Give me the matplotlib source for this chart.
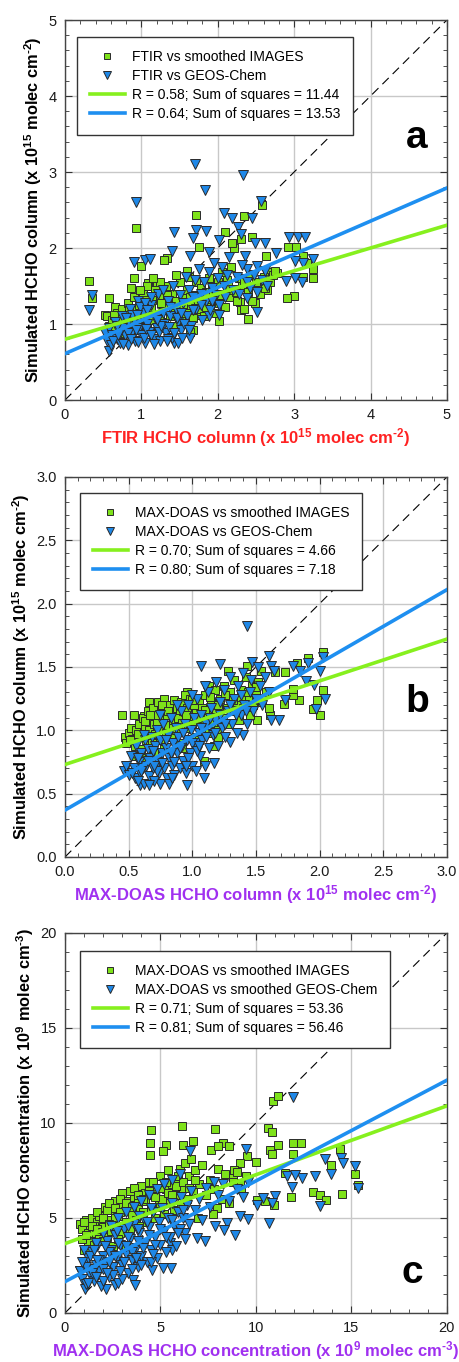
import matplotlib
matplotlib.use("Agg")
import matplotlib.pyplot as plt
from matplotlib.ticker import MultipleLocator, FormatStrFormatter

plt.rcParams['font.family'] = ['Liberation Sans', 'DejaVu Sans']
plt.rcParams['mathtext.fontset'] = 'custom'
plt.rcParams['mathtext.rm'] = 'Liberation Sans:bold'
plt.rcParams['mathtext.bf'] = 'Liberation Sans:bold'
plt.rcParams['mathtext.default'] = 'regular'

GREEN_FACE = '#7ee21a'
BLUE_FACE = '#1e88e8'
GREEN_LINE = '#86f01e'
BLUE_LINE = '#1e8ff0'

# ---- panel a : FTIR ----
a_img_x = [0.31, 0.35, 0.93, 1.71, 2.34, 2.58, 2.45, 2.09, 2.21, 2.19, 1.76, 2.31, 2.92, 3.03,
           2.63, 3.17, 3.12, 3.25, 3.25, 3.00, 2.91, 2.39, 2.02, 1.33, 1.29, 0.90, 1.00, 0.86,
           0.52, 0.57, 0.66, 1.68, 1.64, 1.42, 2.64, 2.29, 2.30, 2.49, 1.90, 1.75, 1.09, 1.20,
           2.64, 2.64, 2.77, 3.12,
           0.55, 0.58, 0.62, 0.65, 0.68, 0.70, 0.72, 0.75, 0.78, 0.80, 0.82, 0.85, 0.87, 0.90,
           0.92, 0.95, 0.97, 1.00, 1.02, 1.05, 1.07, 1.10, 1.12, 1.15, 1.18, 1.20, 1.22, 1.25,
           1.28, 1.30, 1.32, 1.35, 1.38, 1.40, 1.42, 1.45, 1.48, 1.50, 1.52, 1.55, 1.58, 1.60,
           1.62, 1.65, 1.68, 1.70, 1.72, 1.75, 1.78, 1.80, 1.82, 1.85, 1.88, 1.90, 1.92, 1.95,
           1.98, 2.00, 2.02, 2.05, 2.08, 2.10, 2.12, 2.15, 2.18, 2.20, 2.25, 2.28, 2.32, 2.35,
           2.40, 2.42, 2.45, 2.50, 2.55, 2.60, 2.62, 2.68, 2.72, 2.75, 1.60, 1.45, 1.25, 1.08,
           0.98, 1.15,
           0.64, 0.74, 0.84, 0.94, 1.04, 1.14, 1.24, 1.34, 1.44, 1.54, 1.64, 1.74, 1.84, 1.94,
           2.04, 2.14, 2.24, 2.34, 1.06, 1.26]
a_img_y = [1.56, 1.34, 2.27, 2.43, 2.42, 2.56, 2.14, 2.21, 2.00, 2.07, 2.02, 2.12, 2.02, 2.01,
           1.89, 1.80, 1.89, 1.72, 1.60, 1.37, 1.34, 1.06, 1.04, 1.87, 1.84, 1.61, 1.76, 1.47,
           1.12, 1.34, 1.23, 0.92, 0.90, 0.96, 1.45, 1.29, 1.18, 1.27, 1.29, 1.12, 1.54, 1.51,
           1.60, 1.69, 1.67, 1.62,
           1.10, 0.98, 1.05, 0.92, 1.15, 1.02, 0.88, 1.20, 1.08, 0.95, 1.28, 1.12, 1.00, 1.35,
           1.18, 0.92, 1.25, 1.08, 1.40, 1.15, 0.98, 1.30, 1.22, 1.05, 1.45, 1.12, 0.95, 1.35,
           1.18, 1.02, 1.50, 1.25, 1.10, 1.40, 0.98, 1.30, 1.20, 1.55, 1.05, 1.35, 1.15, 1.45,
           1.62, 1.25, 1.08, 1.38, 1.55, 1.20, 1.48, 1.32, 1.10, 1.42, 1.60, 1.25, 1.50, 1.35,
           1.15, 1.55, 1.28, 1.68, 1.40, 1.22, 1.58, 1.35, 1.75, 1.45, 1.30, 1.60, 1.50, 1.20,
           1.42, 1.65, 1.30, 1.55, 1.40, 1.62, 1.48, 1.55, 1.65, 1.70, 1.70, 1.65, 1.55, 1.50,
           1.45, 1.60,
           1.12, 1.04, 1.18, 1.02, 1.22, 1.32, 1.08, 1.38, 1.14, 1.26, 1.35, 1.30, 1.22, 1.45,
           1.38, 1.52, 1.42, 1.55, 1.32, 1.28]
a_geos_x = [1.70, 2.33, 1.83, 0.93, 2.57, 2.45, 2.08, 2.19, 2.26, 1.72, 1.85, 2.30, 1.43, 1.67,
            2.01, 2.93, 3.05, 3.14, 2.62, 2.49, 2.76, 1.40, 1.88, 2.36, 1.64, 0.90, 1.05, 1.11,
            3.25, 3.12, 3.01, 2.51, 2.38, 3.10, 2.90, 3.01, 0.31, 0.35, 0.57, 1.64, 1.43, 2.51,
            2.38, 2.01, 1.88,
            0.52, 0.55, 0.58, 0.60, 0.62, 0.65, 0.68, 0.70, 0.72, 0.75, 0.78, 0.80, 0.82, 0.85,
            0.88, 0.90, 0.92, 0.95, 0.97, 1.00, 1.02, 1.05, 1.08, 1.10, 1.12, 1.15, 1.18, 1.20,
            1.22, 1.25, 1.28, 1.30, 1.32, 1.35, 1.38, 1.40, 1.42, 1.45, 1.48, 1.50, 1.52, 1.55,
            1.58, 1.60, 1.62, 1.65, 1.68, 1.70, 1.72, 1.75, 1.78, 1.80, 1.82, 1.85, 1.88, 1.90,
            1.92, 1.95, 1.98, 2.00, 2.02, 2.05, 2.08, 2.10, 2.12, 2.15, 2.20, 2.25, 2.28, 2.32,
            2.38, 2.42, 2.48, 2.52, 2.58, 2.62, 2.65, 0.98, 1.12, 1.28, 0.88, 0.75, 1.48, 1.35,
            1.05,
            0.63, 0.70, 0.76, 0.83, 0.86, 0.93, 0.96, 1.03, 1.06, 1.13, 1.16, 1.23, 1.26, 1.33,
            1.36, 1.43, 1.46, 1.53, 1.56, 1.63, 0.68, 0.80, 0.94, 1.07, 1.21, 1.38, 1.52, 1.67,
            1.78, 1.93]
a_geos_y = [3.11, 2.96, 2.77, 2.60, 2.62, 2.40, 2.46, 2.39, 2.28, 2.24, 2.22, 2.18, 2.21, 2.13,
            2.10, 2.14, 2.14, 2.14, 2.07, 2.06, 1.94, 1.96, 1.95, 1.89, 1.89, 1.81, 1.84, 1.86,
            1.86, 1.80, 1.83, 1.77, 1.72, 1.55, 1.56, 1.60, 1.19, 1.38, 0.64, 0.81, 0.75, 1.16,
            1.34, 1.12, 1.10,
            0.88, 0.78, 0.95, 0.72, 0.85, 1.02, 0.80, 0.92, 0.75, 1.10, 0.85, 0.98, 0.72, 1.20,
            0.90, 1.05, 0.78, 1.30, 0.95, 0.85, 1.15, 0.75, 1.00, 0.90, 1.25, 0.80, 1.08, 0.95,
            1.40, 0.78, 1.15, 1.00, 0.88, 1.30, 1.10, 0.82, 1.50, 1.20, 1.02, 1.38, 0.92, 1.28,
            1.62, 1.10, 1.45, 0.98, 1.35, 1.58, 1.20, 1.72, 1.40, 1.05, 1.55, 1.30, 1.68, 1.18,
            1.48, 1.80, 1.38, 1.60, 1.25, 1.75, 1.50, 1.35, 1.65, 1.88, 1.45, 1.62, 1.40, 1.78,
            1.55, 1.48, 1.65, 1.42, 1.58, 1.70, 1.50, 1.22, 1.35, 1.45, 1.12, 0.95, 0.75, 0.80,
            1.28,
            0.78, 0.86, 0.74, 0.88, 0.80, 0.92, 0.76, 0.82, 0.94, 0.86, 0.74, 0.90, 0.98, 0.78,
            0.96, 0.88, 1.08, 0.82, 1.00, 0.92, 0.97, 1.08, 1.12, 1.18, 1.05, 1.22, 1.15, 1.18,
            1.25, 1.30]
a_fit_x = [0, 5]
a_fit_img = [0.80, 2.30]
a_fit_geos = [0.61, 2.79]

# ---- panel b : MAX-DOAS columns ----
b_img_x = [0.45, 0.54, 0.62, 2.03, 2.03, 2.00, 1.95, 1.98, 1.84, 1.79, 1.79, 1.91, 1.82, 1.54,
           1.43, 1.28, 1.73, 1.65, 1.72, 1.61, 1.51, 1.13, 0.96, 0.66, 1.17, 1.09,
           0.47, 0.48, 0.50, 0.52, 0.53, 0.55, 0.56, 0.58, 0.58, 0.60, 0.61, 0.62, 0.63, 0.64,
           0.65, 0.66, 0.67, 0.68, 0.69, 0.70, 0.71, 0.72, 0.73, 0.74, 0.75, 0.76, 0.77, 0.78,
           0.79, 0.80, 0.81, 0.82, 0.83, 0.84, 0.85, 0.86, 0.87, 0.88, 0.89, 0.90, 0.91, 0.92,
           0.93, 0.94, 0.95, 0.96, 0.97, 0.98, 1.00, 1.01, 1.02, 1.03, 1.05, 1.06, 1.08, 1.09,
           1.10, 1.12, 1.13, 1.15, 1.16, 1.18, 1.19, 1.20, 1.22, 1.24, 1.25, 1.27, 1.28, 1.30,
           1.32, 1.33, 1.35, 1.37, 1.38, 1.40, 1.42, 1.44, 1.45, 1.47, 1.48, 1.50, 1.52, 1.55,
           1.58, 1.60, 0.70, 0.78, 0.55, 0.60, 0.92, 1.05, 1.20,
           0.51, 0.57, 0.63, 0.67, 0.72, 0.76, 0.81, 0.85, 0.90, 0.95, 1.00, 1.04, 1.10, 1.14,
           1.20, 1.26, 1.32, 1.38, 1.44, 1.50]
b_img_y = [1.12, 1.12, 1.11, 1.62, 1.32, 1.12, 1.17, 1.24, 1.24, 1.28, 1.33, 1.57, 1.53, 1.47,
           1.51, 1.47, 1.46, 1.46, 1.21, 1.12, 1.08, 1.35, 1.30, 1.22, 0.88, 0.76,
           0.95, 0.90, 0.98, 1.02, 0.93, 0.88, 1.00, 0.95, 1.05, 0.85, 1.10, 0.98, 1.03, 0.92,
           1.15, 1.00, 1.08, 0.90, 1.18, 1.05, 0.97, 1.12, 1.22, 1.02, 0.92, 1.16, 1.08, 1.25,
           0.98, 1.12, 1.04, 1.20, 0.95, 1.15, 1.08, 1.24, 1.00, 1.18, 1.10, 0.90, 1.22, 1.06,
           1.15, 1.28, 1.02, 1.18, 1.10, 1.25, 1.05, 1.20, 0.95, 1.14, 1.24, 1.08, 1.18, 1.02,
           1.28, 1.12, 0.98, 1.22, 1.06, 1.32, 1.15, 1.00, 1.25, 1.10, 1.35, 1.18, 1.05, 1.30,
           1.15, 1.40, 1.22, 1.08, 1.32, 1.18, 1.42, 1.25, 1.12, 1.35, 1.20, 1.28, 1.38, 1.22,
           1.30, 1.18, 0.82, 0.85, 0.80, 0.78, 0.86, 0.92, 0.95,
           0.92, 0.97, 1.07, 1.12, 1.06, 1.20, 1.15, 1.02, 1.16, 1.12, 1.24, 1.10, 1.16, 1.26,
           1.20, 1.28, 1.24, 1.26, 1.30, 1.34]
b_geos_x = [1.43, 1.07, 1.22, 1.47, 1.60, 1.62, 1.64, 1.79, 1.85, 1.91, 2.00, 2.03, 2.04, 1.97,
            1.89, 1.96, 1.73, 1.68, 1.62, 1.17, 0.96, 1.09, 0.59, 0.46, 0.75, 1.30, 1.40,
            0.48, 0.50, 0.52, 0.54, 0.55, 0.56, 0.58, 0.59, 0.60, 0.62, 0.63, 0.64, 0.65, 0.66,
            0.67, 0.68, 0.69, 0.70, 0.71, 0.72, 0.73, 0.74, 0.75, 0.76, 0.77, 0.78, 0.79, 0.80,
            0.81, 0.82, 0.83, 0.84, 0.85, 0.86, 0.87, 0.88, 0.89, 0.90, 0.91, 0.92, 0.93, 0.94,
            0.95, 0.96, 0.97, 0.98, 0.99, 1.00, 1.01, 1.02, 1.03, 1.04, 1.05, 1.06, 1.07, 1.08,
            1.10, 1.11, 1.12, 1.13, 1.15, 1.16, 1.18, 1.19, 1.20, 1.22, 1.23, 1.25, 1.26, 1.28,
            1.30, 1.31, 1.33, 1.35, 1.36, 1.38, 1.40, 1.41, 1.43, 1.45, 1.46, 1.48, 1.50, 1.52,
            1.53, 1.55, 1.57, 1.60, 0.62, 0.75, 0.88, 1.00, 1.10, 0.57, 0.66, 0.82,
            0.53, 0.57, 0.61, 0.65, 0.69, 0.72, 0.76, 0.79, 0.83, 0.86, 0.90, 0.93, 0.97, 1.00,
            1.04, 1.07, 1.11, 1.14, 1.18, 1.22, 1.26, 1.30, 1.34, 1.38, 1.42, 0.70, 0.84, 0.95,
            1.05, 0.60]
b_geos_y = [1.82, 1.51, 1.52, 1.54, 1.59, 1.51, 1.47, 1.51, 1.47, 1.53, 1.47, 1.58, 1.25, 1.17,
            1.39, 1.36, 1.24, 1.08, 1.08, 0.74, 0.57, 0.62, 0.57, 0.68, 0.58, 0.91, 0.96,
            0.72, 0.65, 0.80, 0.70, 0.62, 0.88, 0.75, 0.66, 0.82, 0.58, 0.92, 0.72, 0.85, 0.64,
            0.78, 0.95, 0.70, 0.60, 0.88, 1.00, 0.75, 0.66, 0.92, 0.82, 1.05, 0.70, 0.86, 0.62,
            0.96, 0.78, 1.10, 0.72, 0.90, 0.65, 1.02, 0.82, 0.95, 0.70, 1.15, 0.88, 0.76, 1.05,
            0.66, 0.92, 1.20, 0.82, 1.00, 0.72, 1.10, 0.90, 0.68, 1.25, 0.98, 0.80, 1.12, 0.92,
            0.72, 1.05, 1.30, 0.86, 1.18, 0.96, 1.08, 1.38, 0.88, 1.22, 1.02, 1.32, 0.95, 1.15,
            1.42, 1.05, 1.25, 0.98, 1.35, 1.12, 1.45, 1.20, 1.05, 1.30, 1.40, 1.15, 1.25, 1.50,
            1.35, 1.20, 1.42, 1.30, 0.96, 1.12, 1.20, 1.28, 1.35, 0.60, 0.57, 0.58,
            0.66, 0.78, 0.70, 0.76, 0.84, 0.68, 0.74, 0.92, 0.82, 0.75, 0.86, 0.98, 0.78, 0.90,
            0.84, 1.02, 0.95, 1.10, 0.98, 1.12, 1.05, 1.20, 1.12, 1.28, 1.15, 0.72, 0.62, 0.72,
            0.88, 0.68]
b_fit_x = [0, 3]
b_fit_img = [0.73, 1.72]
b_fit_geos = [0.37, 2.11]

# ---- panel c : MAX-DOAS concentrations ----
c_img_x = [10.88, 11.14, 4.51, 6.11, 7.86, 10.62, 10.83, 4.44, 4.45, 5.29, 5.15, 6.17, 6.69,
           8.30, 8.61, 11.93, 12.37, 10.74, 10.83, 11.18, 11.93, 14.41, 13.94, 15.20, 15.32,
           14.50, 13.01, 13.33, 13.68, 11.83, 10.04, 10.45, 10.92, 9.52, 10.01, 11.53, 7.63,
           8.03, 9.17, 8.87, 8.82, 9.17, 7.95, 7.77, 6.99,
           0.8, 0.9, 1.0, 1.1, 1.2, 1.3, 1.4, 1.5, 1.6, 1.7, 1.8, 1.9, 2.0, 2.1, 2.2, 2.3, 2.4,
           2.5, 2.6, 2.7, 2.8, 2.9, 3.0, 3.1, 3.2, 3.3, 3.4, 3.5, 3.6, 3.7, 3.8, 3.9, 4.0, 4.1,
           4.2, 4.3, 4.4, 4.5, 4.6, 4.7, 4.8, 4.9, 5.0, 5.1, 5.2, 5.3, 5.4, 5.5, 5.6, 5.7, 5.8,
           5.9, 6.0, 6.1, 6.2, 6.3, 6.4, 6.5, 6.6, 6.7, 6.8, 7.0, 7.2, 7.4, 7.6, 7.8, 8.0, 8.2,
           8.4, 8.6, 8.8, 9.0, 9.2, 9.5, 0.9, 1.2, 1.5, 1.8, 2.2, 2.6, 3.0, 3.4, 3.8, 4.2, 4.6,
           5.0, 5.4, 5.8, 1.0, 1.3, 2.0, 2.4, 2.8, 3.2, 1.7, 2.3, 2.9, 3.6,
           1.1, 1.4, 1.7, 2.0, 2.3, 2.6, 2.9, 3.2, 3.5, 3.8, 4.1, 4.4, 4.7, 5.0, 5.3, 5.6, 5.9,
           6.2, 6.5, 6.8]
c_img_y = [11.14, 11.40, 9.65, 9.82, 9.70, 9.74, 9.53, 8.95, 8.33, 8.86, 8.51, 8.86, 9.04,
           8.95, 8.81, 8.95, 8.95, 8.60, 8.39, 8.86, 8.37, 8.63, 7.81, 7.33, 6.75,
           6.28, 6.35, 6.23, 5.96, 6.11, 5.93, 5.88, 5.70, 8.28, 7.93, 7.37, 8.60,
           8.77, 7.89, 7.54, 7.11, 6.84, 5.53, 5.23, 5.00,
           4.7, 4.4, 3.3, 4.9, 3.8, 4.5, 5.0, 3.6, 4.2, 4.8, 3.9, 5.2, 4.5, 5.6, 4.0, 4.9, 5.4,
           3.5, 5.9, 4.6, 5.1, 4.2, 6.3, 5.5, 4.8, 5.9, 4.4, 5.2, 6.1, 4.9, 5.6, 4.6, 6.7, 5.3,
           5.9, 4.8, 6.9, 5.5, 6.2, 5.0, 6.6, 5.7, 7.2, 6.0, 5.2, 6.5, 7.5, 5.8, 6.8, 5.4, 7.0,
           6.2, 7.6, 5.7, 6.6, 7.9, 6.0, 7.2, 8.1, 6.4, 7.5, 6.8, 7.8, 6.2, 7.0, 6.5, 7.6, 6.0,
           7.3, 5.8, 6.9, 7.4, 6.5, 7.2, 3.9, 4.2, 4.6, 5.1, 5.4, 5.0, 5.7, 6.4, 5.9, 6.3, 6.9,
           5.6, 6.3, 6.7, 4.8, 3.2, 3.8, 4.3, 3.9, 3.6, 5.3, 5.8, 6.0, 6.6,
           4.1, 4.6, 4.4, 5.0, 4.7, 5.5, 5.3, 5.8, 5.6, 6.2, 6.0, 6.4, 6.1, 6.6, 6.9, 6.2, 7.2,
           6.9, 6.6, 7.0]
c_geos_x = [11.96, 9.48, 6.55, 14.45, 14.54, 13.62, 13.94, 15.20, 15.34, 13.10, 12.40, 11.89,
            13.33, 11.62, 12.05, 11.00, 10.83, 10.39, 10.66, 10.04, 9.17, 9.61, 8.91, 8.47,
            7.86, 8.33, 7.34, 6.90, 6.29, 5.50, 5.59, 5.55, 5.15, 4.54, 3.93, 3.58, 3.67,
            2.15, 2.62, 1.05, 1.14, 0.79,
            0.8, 0.9, 1.0, 1.1, 1.2, 1.3, 1.4, 1.5, 1.6, 1.7, 1.8, 1.9, 2.0, 2.1, 2.2, 2.3, 2.4,
            2.5, 2.6, 2.7, 2.8, 2.9, 3.0, 3.1, 3.2, 3.3, 3.4, 3.5, 3.6, 3.7, 3.8, 3.9, 4.0, 4.1,
            4.2, 4.3, 4.4, 4.5, 4.6, 4.7, 4.8, 4.9, 5.0, 5.1, 5.2, 5.3, 5.4, 5.5, 5.6, 5.7, 5.8,
            5.9, 6.0, 6.1, 6.2, 6.3, 6.4, 6.5, 6.6, 6.8, 7.0, 7.2, 7.4, 7.6, 7.8, 8.0, 8.3, 8.6,
            9.0, 9.3, 9.6, 1.0, 1.3, 1.6, 2.0, 2.4, 2.8, 3.2, 3.6, 4.0, 4.4, 4.8, 5.2, 5.6, 6.0,
            1.2, 1.5, 2.0, 2.5, 3.0, 3.5, 4.0, 4.5, 1.8, 2.3, 2.8, 3.3, 3.8, 4.3,
            1.1, 1.4, 1.7, 2.0, 2.3, 2.6, 2.9, 3.2, 3.5, 3.8, 4.1, 4.4, 4.7, 5.0, 5.3, 5.6, 5.9,
            6.2, 1.5, 2.1, 2.7, 3.3, 3.9, 4.5, 0.9, 1.6, 2.2, 3.1, 3.7, 4.6]
c_geos_y = [11.37, 8.65, 8.51, 8.15, 7.89, 8.11, 7.32, 7.72, 6.58, 7.19, 7.11, 6.63,
            5.65, 7.19, 7.28, 6.14, 5.79, 6.05, 4.74, 5.70, 5.12, 4.95, 4.12, 4.74,
            4.56, 4.39, 3.77, 3.95, 4.21, 3.68, 3.33, 2.37, 2.37, 2.28, 2.89, 1.75, 1.49,
            1.26, 1.49, 1.26, 1.58, 2.19,
            2.2, 1.8, 2.6, 1.5, 2.9, 2.0, 3.2, 1.7, 2.5, 3.5, 2.2, 1.4, 3.0, 2.6, 3.8, 1.9, 3.3,
            2.4, 4.1, 2.9, 1.6, 3.6, 2.5, 4.4, 3.1, 2.1, 3.9, 2.8, 4.7, 3.4, 2.4, 4.2, 3.0, 5.0,
            3.7, 2.7, 4.5, 3.3, 5.3, 4.0, 2.9, 4.8, 3.6, 5.5, 4.3, 3.2, 5.0, 4.0, 5.8, 4.6, 3.5,
            5.3, 4.4, 6.1, 5.0, 3.9, 5.7, 4.7, 6.4, 5.4, 6.0, 4.9, 6.6, 5.6, 6.9, 6.2, 6.8, 5.9,
            6.5, 6.1, 6.9, 3.3, 3.0, 3.7, 4.2, 4.6, 5.0, 5.3, 5.6, 5.9, 6.2, 6.5, 6.8, 7.0, 7.3,
            1.6, 2.3, 1.7, 2.0, 1.8, 2.3, 2.5, 2.7, 2.8, 3.2, 3.7, 4.0, 4.4, 4.8,
            2.4, 2.1, 2.8, 2.3, 2.7, 3.0, 2.2, 3.5, 3.2, 3.8, 3.4, 4.1, 3.6, 4.4, 4.0, 4.9, 4.2,
            5.4, 3.3, 3.5, 4.3, 4.6, 5.1, 5.5, 2.7, 1.9, 2.1, 2.7, 2.9, 3.1]
c_fit_x = [0, 20]
c_fit_img = [3.65, 10.90]
c_fit_geos = [1.65, 12.25]

panels = [
    dict(img=(a_img_x, a_img_y), geos=(a_geos_x, a_geos_y), fit_x=a_fit_x,
         fit_img=a_fit_img, fit_geos=a_fit_geos, lim=5, major=1, minor=0.2, fmt='%d',
         labels=['FTIR vs smoothed IMAGES', 'FTIR vs GEOS-Chem',
                 'R = 0.58; Sum of squares = 11.44', 'R = 0.64; Sum of squares = 13.53'],
         xlabel=r'FTIR HCHO column (x 10$^{15}$ molec cm$^{\text{-2}}$)', xcolor='#ff2222',
         ylabel=r'Simulated HCHO column (x 10$^{15}$ molec cm$^{\text{-2}}$)',
         letter='a', letter_pos=(4.6, 3.45), leg=(0.031, 0.955)),
    dict(img=(b_img_x, b_img_y), geos=(b_geos_x, b_geos_y), fit_x=b_fit_x,
         fit_img=b_fit_img, fit_geos=b_fit_geos, lim=3, major=0.5, minor=0.1, fmt='%.1f',
         labels=['MAX-DOAS vs smoothed IMAGES', 'MAX-DOAS vs GEOS-Chem',
                 'R = 0.70; Sum of squares = 4.66', 'R = 0.80; Sum of squares = 7.18'],
         xlabel=r'MAX-DOAS HCHO column (x 10$^{15}$ molec cm$^{\text{-2}}$)', xcolor='#a030f0',
         ylabel=r'Simulated HCHO column (x 10$^{15}$ molec cm$^{\text{-2}}$)',
         letter='b', letter_pos=(2.77, 1.22), leg=(0.039, 0.958)),
    dict(img=(c_img_x, c_img_y), geos=(c_geos_x, c_geos_y), fit_x=c_fit_x,
         fit_img=c_fit_img, fit_geos=c_fit_geos, lim=20, major=5, minor=1, fmt='%d',
         labels=['MAX-DOAS vs smoothed IMAGES', 'MAX-DOAS vs smoothed GEOS-Chem',
                 'R = 0.71; Sum of squares = 53.36', 'R = 0.81; Sum of squares = 56.46'],
         xlabel=r'MAX-DOAS HCHO concentration (x 10$^{9}$ molec cm$^{\text{-3}}$)',
         xcolor='#a030f0',
         ylabel=r'Simulated HCHO concentration (x 10$^{9}$ molec cm$^{\text{-3}}$)',
         letter='c', letter_pos=(18.2, 2.1), leg=(0.039, 0.953)),
]

fig = plt.figure(figsize=(4.59, 13.62), dpi=100)
bottoms = [0.7063, 0.3708, 0.036]

for p, b in zip(panels, bottoms):
    ax = fig.add_axes([0.1416, b, 0.832, 0.279])
    lim = p['lim']
    ax.plot([0, lim], [0, lim], color='k', lw=0.8, dashes=(8, 5), zorder=2)
    h1, = ax.plot(*p['img'], 's', ms=6.2, mfc=GREEN_FACE, mec='#2a2a2a', mew=0.7,
                  linestyle='none', zorder=3)
    h2, = ax.plot(*p['geos'], 'v', ms=7.2, mfc=BLUE_FACE, mec='#2a2a2a', mew=0.7,
                  linestyle='none', zorder=4)
    h3, = ax.plot(p['fit_x'], p['fit_img'], color=GREEN_LINE, lw=2.6, zorder=5)
    h4, = ax.plot(p['fit_x'], p['fit_geos'], color=BLUE_LINE, lw=2.6, zorder=6)

    ax.set_xlim(0, lim)
    ax.set_ylim(0, lim)
    for axis in (ax.xaxis, ax.yaxis):
        axis.set_major_locator(MultipleLocator(p['major']))
        axis.set_minor_locator(MultipleLocator(p['minor']))
        axis.set_major_formatter(FormatStrFormatter(p['fmt']))
    ax.grid(True, which='major', color='#c8c8c8', lw=1.0, zorder=0)
    ax.set_axisbelow(True)
    ax.tick_params(which='both', direction='in', top=True, right=True,
                   colors='#333333', labelcolor='#1a1a1a', labelsize=10.5)
    ax.tick_params(which='major', length=5, pad=6)
    ax.tick_params(which='minor', length=3)
    for s in ax.spines.values():
        s.set_color('#444444')
        s.set_linewidth(1.0)

    ax.set_xlabel(p['xlabel'], color=p['xcolor'], fontsize=12, fontweight='bold', labelpad=3)
    ax.set_ylabel(p['ylabel'], color='k', fontsize=11.8, fontweight='bold', labelpad=3)

    ax.text(p['letter_pos'][0], p['letter_pos'][1], p['letter'], fontsize=28,
            fontweight='bold', ha='center', va='center', zorder=7)

    leg = ax.legend([h1, h2, h3, h4], p['labels'], loc='upper left',
                    bbox_to_anchor=p['leg'], borderaxespad=0, fontsize=10,
                    frameon=True, fancybox=False, framealpha=1, edgecolor='#333333',
                    handlelength=2.5, numpoints=1, borderpad=0.95, labelspacing=0.36,
                    handletextpad=0.5, markerscale=0.8)
    leg.get_frame().set_linewidth(1.0)
    leg.set_zorder(8)

fig.savefig('out.png', dpi=100)
